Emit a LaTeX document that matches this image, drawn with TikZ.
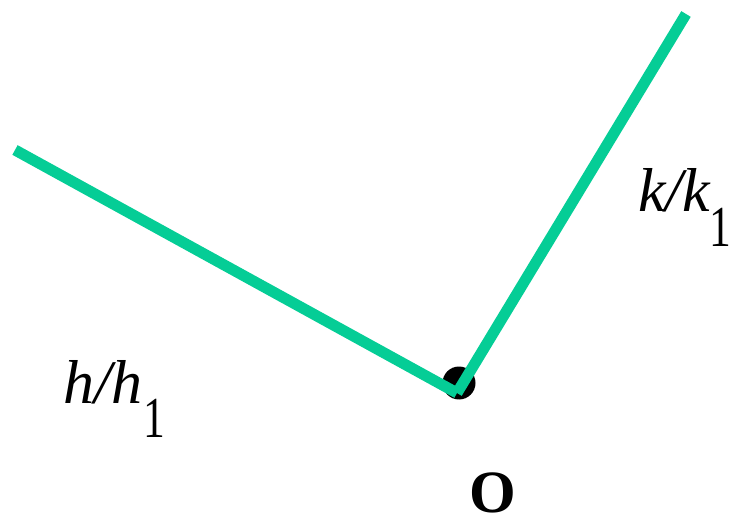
\documentclass[tikz,border=0pt]{standalone}
\usepackage{fontspec}
\setmainfont{Liberation Serif}
\definecolor{edgegreen}{RGB}{5,205,150}
\newcommand{\subone}[1]{\raisebox{#1}{\upshape\fontsize{58}{60}\selectfont\scalebox{0.75}[1]{1}}}
\begin{document}
\begin{tikzpicture}[x=1pt,y=1pt,
  edge/.style={draw=edgegreen,line width=11pt,line cap=butt},
  lbl/.style={inner sep=0pt,anchor=base west,font=\fontsize{62}{64}\selectfont}]
\useasboundingbox (0,0) rectangle (735,522);
\coordinate (v) at (457,129);
\coordinate (a) at (15,372);
\coordinate (b) at (686,508);
\fill[black] (459,139) circle (16.5);
\draw[edge] (a) -- (v);
\draw[edge] (v) -- (b);
\node[lbl] (hl) at (63,119) {\itshape h/h\hspace{1pt}\subone{-34pt}};
\node[lbl] (kl) at (638,310) {\itshape k/k\hspace{-1pt}\subone{-35pt}};
\node[lbl,font=\fontsize{60}{62}\selectfont\bfseries,text depth=0pt] (o) at (469,10) {O};
\end{tikzpicture}
\end{document}
